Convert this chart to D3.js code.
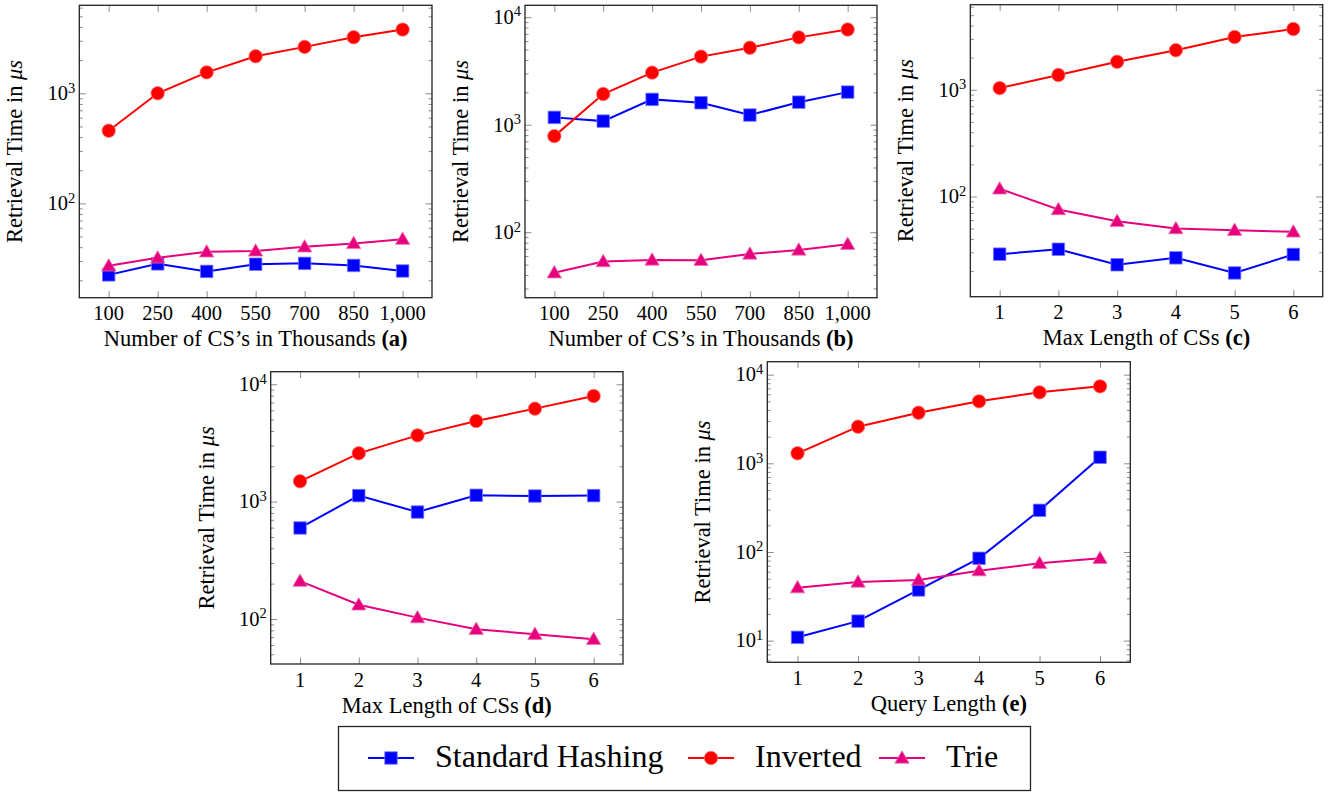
<!DOCTYPE html>
<html>
<head>
<meta http-equiv="Content-type" content="text/html; charset=utf-8">
<title>Retrieval time</title>
<script src="https://cdn.jsdelivr.net/npm/d3@7"></script>
<style>
  body { margin: 0; background: #fff; }
</style>
</head>
<body>
<svg id="chart" width="1330" height="792" font-family="'Liberation Serif', 'DejaVu Serif', serif"></svg>
<script>

  // series names + colours
  var seriesNames = ["Standard Hashing", "Inverted", "Trie"];
  var seriesColors = ["#0000ff", "#ff0000", "#e6007e"];
  var seriesEdge = ["#7878ff", "#ff7070", "#f070b0"];
  var seriesMarks = ["square", "circle", "triangle"];

  // x categories
  var xCount = [100, 250, 400, 550, 700, 850, 1000];
  var xLength = [1, 2, 3, 4, 5, 6];

  // (a) number of CSs
  var hashA = [22.4, 28.2, 24.1, 28, 28.5, 27.3, 24.3];
  var invA = [457, 1000, 1550, 2170, 2640, 3230, 3790];
  var trieA = [27.1, 32, 36.3, 37, 40.3, 43.3, 47.3];

  // (b) number of CSs
  var hashB = [1170, 1080, 1720, 1600, 1230, 1620, 2010];
  var invB = [783, 1930, 3050, 4300, 5200, 6490, 7680];
  var trieB = [42, 53.4, 55.2, 54.8, 62.8, 68.4, 77.3];

  // (c) max length of CSs
  var hashC = [28.8, 32, 22.9, 26.6, 19.2, 28.6];
  var invC = [1037, 1374, 1830, 2350, 3120, 3710];
  var trieC = [118, 75.5, 58.6, 50, 48.3, 46.6];

  // (d) max length of CSs
  var hashD = [596, 1125, 815, 1132, 1116, 1125];
  var invD = [1490, 2580, 3670, 4860, 6200, 7940];
  var trieD = [210, 132, 102.6, 81.7, 74.1, 67.2];

  // (e) query length
  var hashE = [10.9, 16.6, 37.3, 84.9, 295, 1170];
  var invE = [1297, 2590, 3720, 5000, 6320, 7380];
  var trieE = [39.6, 45.9, 48.4, 61.6, 74.5, 84.9];

  var yLabel = "Retrieval Time in ";
  var FONT = "'Liberation Serif', 'DejaVu Serif', serif";

  // panel frames (layout only)
  var panels = [
    {tag: "a", label: "Number of CS\u2019s in Thousands", xs: xCount, series: [hashA, invA, trieA],
     left: 79.3, right: 432, top: 5.3, bottom: 297.7, xdom: [10, 1090], ydom: [13.9, 6300]},
    {tag: "b", label: "Number of CS\u2019s in Thousands", xs: xCount, series: [hashB, invB, trieB],
     left: 525, right: 877, top: 5.3, bottom: 297.7, xdom: [10, 1090], ydom: [24.6, 12900]},
    {tag: "c", label: "Max Length of CSs", xs: xLength, series: [hashC, invC, trieC],
     left: 970.3, right: 1322.7, top: 4.7, bottom: 296.7, xdom: [0.5, 6.5], ydom: [11.5, 6270]},
    {tag: "d", label: "Max Length of CSs", xs: xLength, series: [hashD, invD, trieD],
     left: 270.7, right: 623, top: 371.7, bottom: 664, xdom: [0.5, 6.5], ydom: [41.3, 12800]},
    {tag: "e", label: "Query Length", xs: xLength, series: [hashE, invE, trieE],
     left: 767.3, right: 1130.3, top: 361.7, bottom: 662.3, xdom: [0.5, 6.5], ydom: [5.7, 14000]}
  ];

  var svg = d3.select("#chart");

  function markPath(kind, s) {
    if (kind === "square") return d3.symbol().type(d3.symbolSquare).size(s * s)();
    if (kind === "circle") return d3.symbol().type(d3.symbolCircle).size(Math.PI * (s / 2) * (s / 2))();
    // triangle
    return "M0," + (-s * 0.55) + "L" + (s * 0.55) + "," + (s * 0.4) + "L" + (-s * 0.55) + "," + (s * 0.4) + "Z";
  }
  function markSize(kind) {
    return kind === "square" ? 12.5 : kind === "circle" ? 13.4 : 13;
  }

  function txt(sel, size) {
    return sel.style("font-family", FONT).style("font-size", size + "px").attr("fill", "#000");
  }

  function drawPanel(p) {
    var g = svg.append("g");
    var x = d3.scaleLinear().domain(p.xdom).range([p.left, p.right]);
    var y = d3.scaleLog().domain(p.ydom).range([p.bottom, p.top]);

    var major = [], minor = [];
    for (var e = 0; e <= 5; e++) {
      for (var k = 1; k <= 9; k++) {
        var v = k * Math.pow(10, e);
        if (v < p.ydom[0] || v > p.ydom[1]) continue;
        if (k === 1) major.push(v); else minor.push(v);
      }
    }

    // y ticks, inside on both sides
    var w = p.right - p.left, h = p.bottom - p.top;
    g.append("g").attr("transform", "translate(" + p.left + ",0)")
      .call(d3.axisLeft(y).tickValues(minor).tickSize(-3.5).tickFormat(""));
    g.append("g").attr("transform", "translate(" + p.left + ",0)")
      .call(d3.axisLeft(y).tickValues(major).tickSize(-6.5).tickFormat(""));
    g.append("g").attr("transform", "translate(" + p.right + ",0)")
      .call(d3.axisRight(y).tickValues(minor).tickSize(-3.5).tickFormat(""));
    g.append("g").attr("transform", "translate(" + p.right + ",0)")
      .call(d3.axisRight(y).tickValues(major).tickSize(-6.5).tickFormat(""));
    // x ticks, inside top and bottom
    g.append("g").attr("transform", "translate(0," + p.bottom + ")")
      .call(d3.axisBottom(x).tickValues(p.xs).tickSize(-6.5).tickFormat(""));
    g.append("g").attr("transform", "translate(0," + p.top + ")")
      .call(d3.axisTop(x).tickValues(p.xs).tickSize(-6.5).tickFormat(""));
    g.selectAll(".domain").remove();
    g.selectAll(".tick line").attr("stroke", "#8c8c8c").attr("stroke-width", 1);

    // frame
    g.append("rect").attr("x", p.left).attr("y", p.top).attr("width", w).attr("height", h)
      .attr("fill", "none").attr("stroke", "#222").attr("stroke-width", 1.3);

    // y tick labels 10^n
    major.forEach(function (v) {
      var t = txt(g.append("text"), 20.5).attr("x", p.left - 4).attr("y", y(v) + 6.8)
        .attr("text-anchor", "end");
      t.append("tspan").text("10");
      t.append("tspan").attr("dy", -7.5).style("font-size", "14.5px").text(Math.round(Math.log10(v)));
    });

    // x tick labels
    var fmt = d3.format(",");
    txt(g.selectAll(".xl").data(p.xs).enter().append("text"), 20.5)
      .attr("x", function (d) { return x(d); })
      .attr("y", p.bottom + 22.5)
      .attr("text-anchor", "middle")
      .text(function (d) { return fmt(d); });

    // axis labels
    var xl = txt(g.append("text"), 22.5).attr("x", (p.left + p.right) / 2).attr("y", p.bottom + 48.5)
      .attr("text-anchor", "middle");
    xl.append("tspan").text(p.label + " ");
    xl.append("tspan").style("font-weight", "bold").text("(" + p.tag + ")");

    var yl = txt(g.append("text"), 22.5)
      .attr("transform", "translate(" + (p.left - 57) + "," + ((p.top + p.bottom) / 2) + ") rotate(-90)")
      .attr("text-anchor", "middle");
    yl.append("tspan").text(yLabel);
    yl.append("tspan").style("font-style", "italic").text("\u03bcs");

    // series
    p.series.forEach(function (vals, si) {
      var pts = vals.map(function (v, i) { return [p.xs[i], v]; });
      g.append("path").datum(pts)
        .attr("fill", "none").attr("stroke", seriesColors[si]).attr("stroke-width", 2)
        .attr("d", d3.line().x(function (d) { return x(d[0]); }).y(function (d) { return y(d[1]); }));
      g.selectAll(".m" + si).data(pts).enter().append("path")
        .attr("transform", function (d) { return "translate(" + x(d[0]) + "," + y(d[1]) + ")"; })
        .attr("d", markPath(seriesMarks[si], markSize(seriesMarks[si])))
        .attr("fill", seriesColors[si]).attr("stroke", seriesEdge[si]).attr("stroke-width", 0.8);
    });
  }

  panels.forEach(drawPanel);

  // legend
  var lg = svg.append("g");
  lg.append("rect").attr("x", 338.5).attr("y", 726.5).attr("width", 692).attr("height", 64)
    .attr("fill", "#fff").attr("stroke", "#222").attr("stroke-width", 1.3);
  var legendX = [368, 688, 879];
  seriesNames.forEach(function (name, i) {
    var lx = legendX[i], ly = 758;
    lg.append("line").attr("x1", lx).attr("x2", lx + 46).attr("y1", ly).attr("y2", ly)
      .attr("stroke", seriesColors[i]).attr("stroke-width", 2.2);
    lg.append("path").attr("transform", "translate(" + (lx + 23) + "," + ly + ")")
      .attr("d", markPath(seriesMarks[i], markSize(seriesMarks[i])))
      .attr("fill", seriesColors[i]).attr("stroke", seriesEdge[i]).attr("stroke-width", 0.8);
    txt(lg.append("text"), 32).attr("x", lx + 67).attr("y", 767).text(name);
  });

</script>
</body>
</html>
